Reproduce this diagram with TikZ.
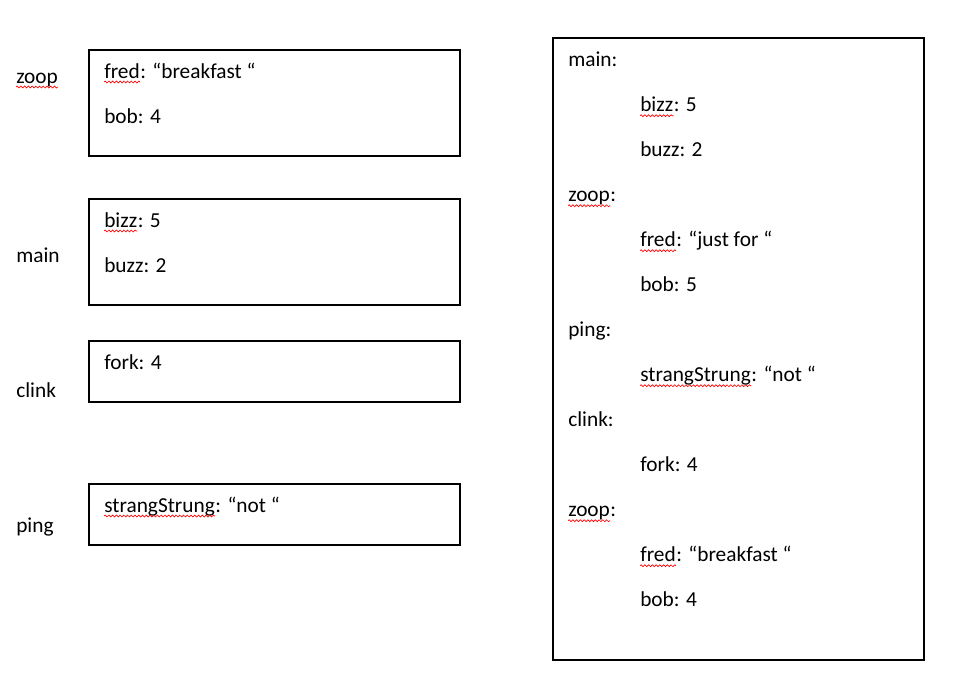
\documentclass[tikz,border=0pt]{standalone}
\usepackage{fontspec}
\setmainfont{Carlito}
\usepackage{xcolor}
\usepackage{tikz}
\usetikzlibrary{positioning, decorations.pathmorphing}

\begin{document}
\begin{tikzpicture}[
  x=0.75pt, y=-0.75pt,
  frame/.style = {draw, line width=1.4pt},
  txt/.style   = {anchor=base west, inner sep=0pt,
                  font=\fontsize{16}{19}\selectfont},
  squig/.style = {draw=red, line width=0.5pt, decorate,
                  decoration={snake, segment length=2.8pt, amplitude=0.7pt}}
]
\useasboundingbox (0,0) rectangle (955,693);
% frames on the left
\draw[frame] (89,50) rectangle (460,156);
\draw[frame] (89,199) rectangle (460,305);
\draw[frame] (89,341) rectangle (460,402);
\draw[frame] (89,484) rectangle (460,545);
% big frame on the right
\draw[frame] (553,38) rectangle (924,660);
% names beside the frames
\node[txt] (lzoop)  at (16,83)  {zoop};
\node[txt] (lmain)  at (16,262) {main};
\node[txt] (lclink) at (16,397) {clink};
\node[txt] (lping)  at (16,532) {ping};
% contents of the frames
\node[txt] (zfred)  at (104,78)  {fred};
\node[txt] (zfredv) at (zfred.base east) {: “breakfast “};
\node[txt] (zbob)   at (104,123) {bob: 4};
\node[txt] (mbizz)  at (104,227) {bizz};
\node[txt] (mbizzv) at (mbizz.base east) {: 5};
\node[txt] (mbuzz)  at (104,272) {buzz: 2};
\node[txt] (cfork)  at (104,369) {fork: 4};
\node[txt] (pstr)   at (104,512) {strangStrung};
\node[txt] (pstrv)  at (pstr.base east) {: “not “};
% trace in the right frame
\node[txt] (rmain)   at (568,66.7)  {main:};
\node[txt] (rbizz)   at (640,111.7) {bizz};
\node[txt] (rbizzv)  at (rbizz.base east) {: 5};
\node[txt] (rbuzz)   at (640,156.7) {buzz: 2};
\node[txt] (rzoop)   at (568,201.7) {zoop};
\node[txt] (rzoopv)  at (rzoop.base east) {:};
\node[txt] (rfred)   at (640,246.7) {fred};
\node[txt] (rfredv)  at (rfred.base east) {: “just for “};
\node[txt] (rbob)    at (640,291.7) {bob: 5};
\node[txt] (rping)   at (568,336.7) {ping:};
\node[txt] (rstr)    at (640,381.7) {strangStrung};
\node[txt] (rstrv)   at (rstr.base east) {: “not “};
\node[txt] (rclink)  at (568,426.7) {clink:};
\node[txt] (rfork)   at (640,471.7) {fork: 4};
\node[txt] (rzoop2)  at (568,516.7) {zoop};
\node[txt] (rzoop2v) at (rzoop2.base east) {:};
\node[txt] (rfred2)  at (640,561.7) {fred};
\node[txt] (rfred2v) at (rfred2.base east) {: “breakfast “};
\node[txt] (rbob2)   at (640,606.7) {bob: 4};
% spell-check waves
\foreach \w in {lzoop, zfred, mbizz, pstr, rbizz, rzoop, rfred, rstr, rzoop2, rfred2}
  \draw[squig] ([yshift=-3pt]\w.base west) -- ([yshift=-3pt]\w.base east);
\end{tikzpicture}
\end{document}
